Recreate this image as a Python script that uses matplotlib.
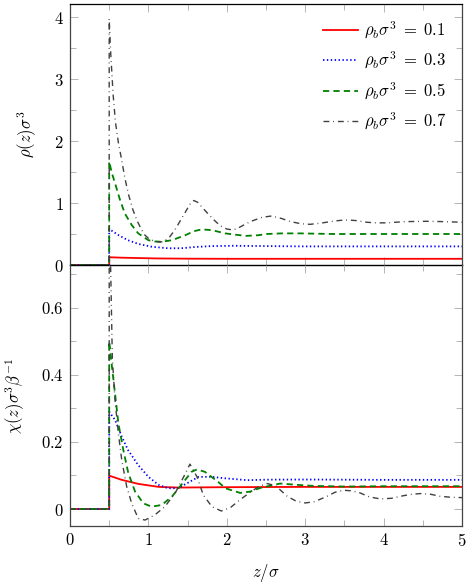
import matplotlib
matplotlib.use("Agg")
import matplotlib.pyplot as plt
from matplotlib.ticker import MultipleLocator, FuncFormatter

plt.rcParams.update({
    "mathtext.fontset": "cm",
    "font.family": "serif",
    "font.serif": ["cmr10", "DejaVu Serif"],
    "axes.formatter.use_mathtext": True,
    "lines.scale_dashes": False,
    "axes.unicode_minus": False,
})

# ---------------- data: density profiles rho(z) sigma^3 ----------------
labels = [r"$\rho_b\sigma^3 \;=\; 0.1$", r"$\rho_b\sigma^3 \;=\; 0.3$",
          r"$\rho_b\sigma^3 \;=\; 0.5$", r"$\rho_b\sigma^3 \;=\; 0.7$"]

z_rho_01 = [0, 0.5, 0.5, 0.66, 0.87, 1.1, 1.5, 2.0, 3.0, 4.0, 5.0]
rho_01 = [0, 0, 0.125, 0.118, 0.112, 0.106, 0.102, 0.100, 0.100, 0.100, 0.100]

z_rho_03 = [0, 0.5, 0.5, 0.62, 0.74, 0.87, 1.04, 1.25, 1.42, 1.59, 1.81, 2.1, 2.5, 3.0, 4.0, 5.0]
rho_03 = [0, 0, 0.58, 0.48, 0.40, 0.34, 0.295, 0.27, 0.27, 0.29, 0.305, 0.31, 0.305, 0.30, 0.30, 0.30]

z_rho_05 = [0, 0.5, 0.5, 0.53, 0.574, 0.638, 0.70, 0.787, 0.87, 1.0, 1.08, 1.17, 1.30,
            1.47, 1.58, 1.68, 1.78, 1.85, 1.98, 2.1, 2.25, 2.4, 2.51, 2.7, 2.93, 3.36, 4.0, 5.0]
rho_05 = [0, 0, 1.67, 1.50, 1.32, 1.05, 0.83, 0.645, 0.51, 0.40, 0.38, 0.375, 0.40,
          0.48, 0.545, 0.575, 0.565, 0.55, 0.51, 0.49, 0.47, 0.48, 0.50, 0.51, 0.51, 0.50, 0.50, 0.50]

z_rho_07 = [0, 0.5, 0.5, 0.52, 0.55, 0.58, 0.62, 0.66, 0.70, 0.75, 0.80, 0.85, 0.90, 0.95,
            1.0, 1.08, 1.15, 1.20, 1.27, 1.34, 1.40, 1.47, 1.53, 1.58, 1.63, 1.70, 1.78,
            1.85, 1.92, 2.0, 2.08, 2.15, 2.30, 2.45, 2.57, 2.70, 2.81, 2.95, 3.06, 3.20,
            3.32, 3.45, 3.55, 3.66, 3.78, 3.90, 4.04, 4.16, 4.29, 4.55, 4.75, 5.0]
rho_07 = [0, 0, 3.97, 3.40, 2.75, 2.30, 1.95, 1.69, 1.40, 1.12, 0.90, 0.73, 0.60, 0.49,
          0.43, 0.38, 0.37, 0.38, 0.45, 0.57, 0.70, 0.85, 0.98, 1.04, 1.01, 0.91, 0.80,
          0.71, 0.63, 0.58, 0.565, 0.60, 0.70, 0.77, 0.79, 0.75, 0.70, 0.665, 0.656, 0.675,
          0.70, 0.72, 0.726, 0.715, 0.69, 0.68, 0.68, 0.69, 0.70, 0.705, 0.70, 0.69]

# ---------------- data: chi(z) sigma^3 / beta ----------------
z_chi_01 = [0, 0.5, 0.5, 0.66, 0.87, 1.13, 1.38, 1.93, 3.0, 4.0, 5.0]
chi_01 = [0, 0, 0.0995, 0.087, 0.075, 0.066, 0.064, 0.065, 0.066, 0.066, 0.066]

z_chi_03 = [0, 0.5, 0.5, 0.574, 0.66, 0.74, 0.87, 1.0, 1.13, 1.25, 1.38, 1.51, 1.64,
            1.81, 1.96, 2.26, 2.5, 3.0, 4.0, 5.0]
chi_03 = [0, 0, 0.29, 0.266, 0.216, 0.176, 0.131, 0.096, 0.072, 0.062, 0.062, 0.079, 0.096,
          0.096, 0.092, 0.086, 0.0875, 0.088, 0.087, 0.087]

z_chi_05 = [0, 0.5, 0.5, 0.53, 0.574, 0.617, 0.68, 0.744, 0.83, 0.935, 1.04, 1.17, 1.30,
            1.42, 1.55, 1.62, 1.72, 1.89, 1.98, 2.17, 2.30, 2.43, 2.68, 2.9, 3.1, 3.5, 4.0, 5.0]
chi_05 = [0, 0, 0.50, 0.435, 0.345, 0.256, 0.176, 0.107, 0.052, 0.017, 0.007, 0.012, 0.037,
          0.072, 0.111, 0.118, 0.111, 0.081, 0.062, 0.048, 0.052, 0.063, 0.076, 0.072, 0.069,
          0.067, 0.068, 0.068]

z_chi_07 = [0, 0.5, 0.5, 0.54, 0.574, 0.617, 0.66, 0.723, 0.787, 0.87, 0.957, 1.08, 1.21,
            1.34, 1.45, 1.53, 1.62, 1.70, 1.81, 1.93, 2.05, 2.17, 2.30, 2.40, 2.51, 2.62,
            2.77, 2.88, 3.0, 3.12, 3.28, 3.38, 3.49, 3.6, 3.7, 3.82, 3.96, 4.1, 4.26, 4.36,
            4.47, 4.6, 4.72, 4.86, 5.0]
chi_07 = [0, 0, 0.95, 0.45, 0.325, 0.226, 0.146, 0.067, 0.017, -0.028, -0.033, -0.018, 0.007,
          0.047, 0.096, 0.134, 0.096, 0.042, 0.007, -0.006, 0.005, 0.028, 0.05, 0.066, 0.076,
          0.07, 0.038, 0.024, 0.018, 0.022, 0.038, 0.05, 0.056, 0.054, 0.048, 0.036, 0.030,
          0.032, 0.040, 0.044, 0.046, 0.044, 0.038, 0.035, 0.034]

rho_series = [(z_rho_01, rho_01), (z_rho_03, rho_03), (z_rho_05, rho_05), (z_rho_07, rho_07)]
chi_series = [(z_chi_01, chi_01), (z_chi_03, chi_03), (z_chi_05, chi_05), (z_chi_07, chi_07)]

styles = [
    dict(color="#ff0000", lw=1.3, linestyle="-"),
    dict(color="#0000ff", lw=1.3, linestyle=(0, (1.0, 1.8))),
    dict(color="#008000", lw=1.3, linestyle=(0, (4.5, 3.0))),
    dict(color="#404040", lw=1.0, linestyle=(0, (4.2, 2.8, 0.6, 2.8))),
]

W, H = 477, 583
fig = plt.figure(figsize=(W / 100, H / 100), dpi=100)
ax1 = fig.add_axes([70 / W, 1 - 265 / H, 392 / W, 261 / H])
ax2 = fig.add_axes([70 / W, 1 - 526 / H, 392 / W, 261 / H])

for (z, v), st, lab in zip(rho_series, styles, labels):
    ax1.plot(z, v, label=lab, **st)
for (z, v), st in zip(chi_series, styles):
    ax2.plot(z, v, **st)

fmt = FuncFormatter(lambda v, p: r"$%s$" % ("%g" % round(v, 6)))

for ax in (ax1, ax2):
    ax.set_xlim(0, 5)
    ax.xaxis.set_major_locator(MultipleLocator(1))
    ax.xaxis.set_minor_locator(MultipleLocator(0.5))
    ax.tick_params(which="both", direction="in", top=True, right=True,
                   color="#aaaaaa", width=0.6, labelsize=12, pad=4.5)
    ax.tick_params(which="major", length=5.8)
    ax.tick_params(which="minor", length=4.0)
    for s in ax.spines.values():
        s.set_color("#444444")
        s.set_linewidth(0.9)
    ax.yaxis.set_major_formatter(fmt)
    ax.xaxis.set_major_formatter(fmt)
    ax.set_facecolor("none")

ax1.set_ylim(0, 4.21)
ax1.yaxis.set_major_locator(MultipleLocator(1))
ax1.yaxis.set_minor_locator(MultipleLocator(0.5))
ax1.tick_params(labelbottom=False)
ax1.spines["top"].set_color("black")
ax1.spines["bottom"].set_color("black")
ax1.spines["bottom"].set_linewidth(1.0)
ax1.spines["bottom"].set_zorder(5)
ax1.set_ylabel(r"$\rho(z)\sigma^3$", fontsize=12, labelpad=11)

ax2.set_ylim(-0.0507, 0.728)
ax2.yaxis.set_major_locator(MultipleLocator(0.2))
ax2.yaxis.set_minor_locator(MultipleLocator(0.1))
ax2.spines["top"].set_visible(False)
ax2.set_ylabel(r"$\chi(z)\sigma^3\beta^{-1}$", fontsize=12, labelpad=10)
ax2.set_xlabel(r"$z/\sigma$", fontsize=12, labelpad=9)

ax1.legend(loc="upper right", frameon=False, fontsize=12, handlelength=2.1,
           handletextpad=0.35, labelspacing=0.55, borderaxespad=0.4, borderpad=0.55)

fig.savefig("out.png", dpi=100)
